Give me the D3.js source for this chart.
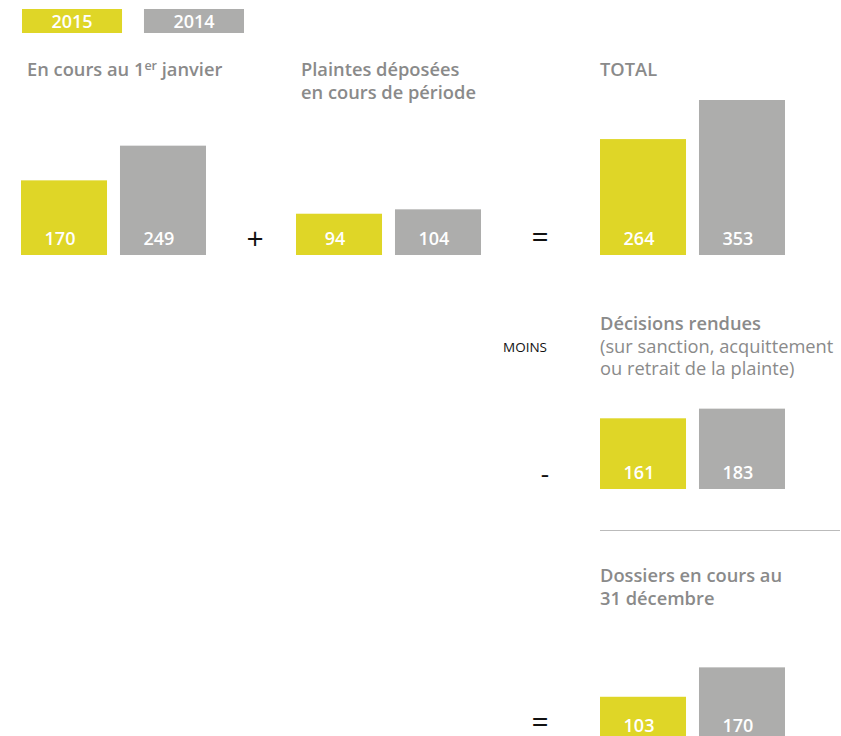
<!DOCTYPE html>
<html>
<head>
<meta charset="utf-8">
<script src="https://cdn.jsdelivr.net/npm/d3@7"></script>
<style>
  body { margin: 0; overflow: hidden; background: #fff; }
  text { font-family: "Open Sans", sans-serif; }
</style>
</head>
<body>
<script>
'use strict';

// data
var years = ['2015', '2014'];
var panels = ['debut', 'deposees', 'total', 'decisions', 'fin'];
var values2015 = [170, 94, 264, 161, 103];
var values2014 = [249, 104, 353, 183, 170];

var yellow = '#dfd627';
var grey = '#adadac';
var titleColor = '#8a8a8a';

// where each group of two bars sits (left edge, bottom)
var layout = {
  debut:     {x: 21,  bottom: 255},
  deposees:  {x: 296, bottom: 255},
  total:     {x: 600, bottom: 255},
  decisions: {x: 600, bottom: 489},
  fin:       {x: 600, bottom: 742}
};

var svg = d3.select('body').append('svg')
  .attr('width', 841)
  .attr('height', 760);

var color = d3.scaleOrdinal()
  .domain(years)
  .range([yellow, grey]);

// one height scale for all groups
var h = d3.scaleLinear()
  .domain([0, 353])
  .range([0, 155]);

// legend
var legendX = d3.scaleBand()
  .domain(years)
  .range([22, 244])
  .paddingInner(0.18);

var legend = svg.selectAll('.legend')
  .data(years)
  .enter().append('g')
    .attr('class', 'legend');

legend.append('rect')
  .attr('x', function(d){ return legendX(d); })
  .attr('y', 9)
  .attr('width', legendX.bandwidth())
  .attr('height', 24)
  .attr('fill', color);

legend.append('text')
  .attr('x', function(d){ return legendX(d) + legendX.bandwidth() / 2; })
  .attr('y', 28)
  .attr('text-anchor', 'middle')
  .attr('fill', '#fff')
  .attr('font-size', 18)
  .attr('font-weight', 600)
  .text(function(d){ return d; });

// bars
var groups = svg.selectAll('.group')
  .data(panels)
  .enter().append('g')
    .attr('class', 'group');

groups.each(function(p, i){
  var g = d3.select(this);
  var pos = layout[p];
  var x = d3.scaleBand()
    .domain(years)
    .range([pos.x, pos.x + 185])
    .paddingInner(0.131);
  var vals = [
    {year: '2015', value: values2015[i]},
    {year: '2014', value: values2014[i]}
  ];

  g.selectAll('rect')
    .data(vals)
    .enter().append('rect')
      .attr('x', function(d){ return x(d.year); })
      .attr('y', function(d){ return pos.bottom - h(d.value); })
      .attr('width', x.bandwidth())
      .attr('height', function(d){ return h(d.value); })
      .attr('fill', function(d){ return color(d.year); });

  g.selectAll('text')
    .data(vals)
    .enter().append('text')
      .attr('x', function(d){ return x(d.year) + x.bandwidth() / 2 - 4; })
      .attr('y', pos.bottom - 10)
      .attr('text-anchor', 'middle')
      .attr('fill', '#fff')
      .attr('font-size', 18)
      .attr('font-weight', 600)
      .text(function(d){ return d.value; });
});

// titles
function title(x, y, lines, weights){
  lines.forEach(function(line, k){
    svg.append('text')
      .attr('x', x)
      .attr('y', y + k * 22.5)
      .attr('fill', titleColor)
      .attr('font-size', 18.3)
      .attr('font-weight', weights ? weights[k] : 600)
      .text(line);
  });
}

var t1 = svg.append('text')
  .attr('x', 27)
  .attr('y', 76)
  .attr('fill', titleColor)
  .attr('font-size', 18.3)
  .attr('font-weight', 600);
t1.append('tspan').text('En cours au 1');
t1.append('tspan').attr('font-size', 12.5).attr('dy', -6).text('er');
t1.append('tspan').attr('dy', 6).text(' janvier');

title(301, 76, ['Plaintes déposées', 'en cours de période']);
title(600, 76, ['TOTAL']);
title(600, 330, ['Décisions rendues', '(sur sanction, acquittement', 'ou retrait de la plainte)'], [600, 400, 400]);
title(600, 582, ['Dossiers en cours au', '31 décembre']);

// operators
function op(x, y, s, size){
  svg.append('text')
    .attr('x', x)
    .attr('y', y)
    .attr('text-anchor', 'middle')
    .attr('fill', '#111')
    .attr('font-size', size)
    .text(s);
}
op(255, 249, '+', 30);
op(540, 247, '=', 30);
op(545, 483, '-', 26);
op(540, 732, '=', 30);

svg.append('text')
  .attr('x', 503)
  .attr('y', 352)
  .attr('fill', '#111')
  .attr('font-size', 13.5)
  .text('MOINS');

svg.append('line')
  .attr('x1', 600)
  .attr('x2', 840)
  .attr('y1', 530.5)
  .attr('y2', 530.5)
  .attr('stroke', '#bbb')
  .attr('stroke-width', 1);
</script>
</body>
</html>
